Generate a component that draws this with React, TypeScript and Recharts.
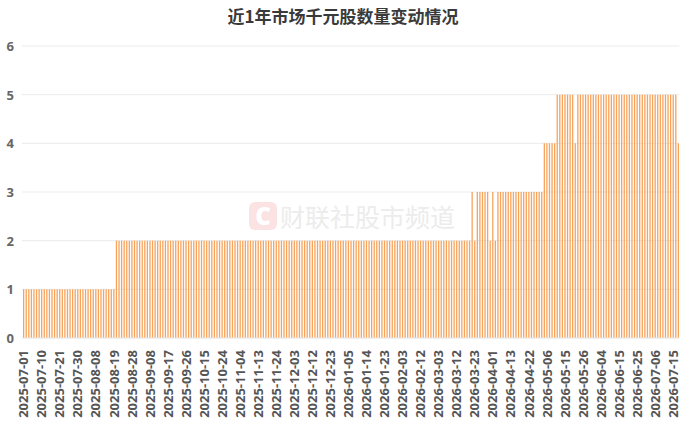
import { BarChart, Bar, XAxis, YAxis, CartesianGrid } from 'recharts'

// trading days (A-share calendar) per month
const tradingMonths: [string, number[]][] = [
  ['2025-07', [1, 2, 3, 4, 7, 8, 9, 10, 11, 14, 15, 16, 17, 18, 21, 22, 23, 24, 25, 28, 29, 30, 31]],
  ['2025-08', [1, 4, 5, 6, 7, 8, 11, 12, 13, 14, 15, 18, 19, 20, 21, 22, 25, 26, 27, 28, 29]],
  ['2025-09', [1, 2, 3, 4, 5, 8, 9, 10, 11, 12, 15, 16, 17, 18, 19, 22, 23, 24, 25, 26, 29, 30]],
  ['2025-10', [9, 10, 13, 14, 15, 16, 17, 20, 21, 22, 23, 24, 27, 28, 29, 30, 31]],
  ['2025-11', [3, 4, 5, 6, 7, 10, 11, 12, 13, 14, 17, 18, 19, 20, 21, 24, 25, 26, 27, 28]],
  ['2025-12', [1, 2, 3, 4, 5, 8, 9, 10, 11, 12, 15, 16, 17, 18, 19, 22, 23, 24, 25, 26, 29, 30, 31]],
  ['2026-01', [5, 6, 7, 8, 9, 12, 13, 14, 15, 16, 19, 20, 21, 22, 23, 26, 27, 28, 29, 30]],
  ['2026-02', [2, 3, 4, 5, 6, 9, 10, 11, 12, 13, 24, 25, 26, 27]],
  ['2026-03', [2, 3, 4, 5, 6, 9, 10, 11, 12, 13, 16, 17, 18, 19, 20, 23, 24, 25, 26, 27, 30, 31]],
  ['2026-04', [1, 2, 3, 7, 8, 9, 10, 13, 14, 15, 16, 17, 20, 21, 22, 23, 24, 27, 28, 29, 30]],
  ['2026-05', [6, 7, 8, 11, 12, 13, 14, 15, 18, 19, 20, 21, 22, 25, 26, 27, 28, 29]],
  ['2026-06', [1, 2, 3, 4, 5, 8, 9, 10, 11, 12, 15, 16, 17, 18, 22, 23, 24, 25, 26, 29, 30]],
  ['2026-07', [1, 2, 3, 6, 7, 8, 9, 10, 13, 14, 15, 16, 17]],
]

// number of stocks priced above 1000 yuan, as [count, number of consecutive days]
const countRuns: [number, number][] = [
  [1, 36],
  [2, 138],
  [3, 1],
  [2, 1],
  [3, 5],
  [2, 1],
  [3, 1],
  [2, 1],
  [3, 18],
  [4, 5],
  [5, 7],
  [4, 1],
  [5, 39],
  [4, 1],
]

const yTicks = [0, 1, 2, 3, 4, 5, 6]

const dates = tradingMonths.flatMap(([m, days]) =>
  days.map((d) => `${m}-${String(d).padStart(2, '0')}`)
)
const counts = countRuns.flatMap(([v, n]) => Array(n).fill(v))
const data = dates.map((date, i) => ({ date, count: counts[i] }))

function DateTick({ x, y, payload }: any) {
  return (
    <text
      x={x}
      y={y + 4}
      transform={`rotate(-90 ${x} ${y + 4})`}
      textAnchor="end"
      dominantBaseline="central"
      fontSize={13}
      fontWeight={700}
      fill="#555"
      fontFamily="'Open Sans', 'Noto Sans', sans-serif"
    >
      {payload.value}
    </text>
  )
}

function CountTick({ y, payload }: any) {
  return (
    <text
      x={14}
      y={y}
      textAnchor="end"
      dominantBaseline="central"
      fontSize={13}
      fontWeight={700}
      fill="#666"
      fontFamily="'Open Sans', 'Noto Sans', sans-serif"
    >
      {payload.value}
    </text>
  )
}

export default function App() {
  return (
    <div style={{ position: 'absolute', left: 0, top: 0, width: 692, height: 443, background: '#fff' }}>
      <div
        style={{
          position: 'absolute',
          left: 0,
          top: 5,
          width: 686,
          textAlign: 'center',
          fontFamily: "'Noto Sans CJK SC', sans-serif",
          fontWeight: 700,
          fontSize: 17,
          lineHeight: '22px',
          color: '#3a3a3a',
        }}
      >
        近1年市场千元股数量变动情况
      </div>
      <div
        style={{
          position: 'absolute',
          left: 249,
          top: 202,
          display: 'flex',
          alignItems: 'center',
          pointerEvents: 'none',
        }}
      >
        <div
          style={{
            width: 28,
            height: 28,
            borderRadius: 6,
            background: '#fce3e3',
            color: '#fff',
            fontFamily: "'Open Sans', sans-serif",
            fontWeight: 800,
            fontSize: 24,
            lineHeight: '28px',
            textAlign: 'center',
          }}
        >
          C
        </div>
        <div
          style={{
            marginLeft: 3,
            fontFamily: "'Noto Sans CJK SC', sans-serif",
            fontSize: 25,
            lineHeight: '28px',
            color: '#ececec',
          }}
        >
          财联社股市频道
        </div>
      </div>
      <BarChart
        width={692}
        height={443}
        data={data}
        margin={{ top: 46, right: 12.7, left: 0, bottom: 0 }}
        barSize={1.3}
        style={{ position: 'absolute', left: 0, top: 0 }}
      >
        <CartesianGrid vertical={false} stroke="#ebebeb" />
        <XAxis
          dataKey="date"
          interval={6}
          height={105}
          tick={<DateTick />}
          axisLine={{ stroke: '#ebebeb' }}
          tickLine={false}
        />
        <YAxis
          width={22}
          domain={[0, 6]}
          ticks={yTicks}
          tick={<CountTick />}
          axisLine={false}
          tickLine={false}
        />
        <Bar dataKey="count" fill="#f7a35c" isAnimationActive={false} />
      </BarChart>
    </div>
  )
}
